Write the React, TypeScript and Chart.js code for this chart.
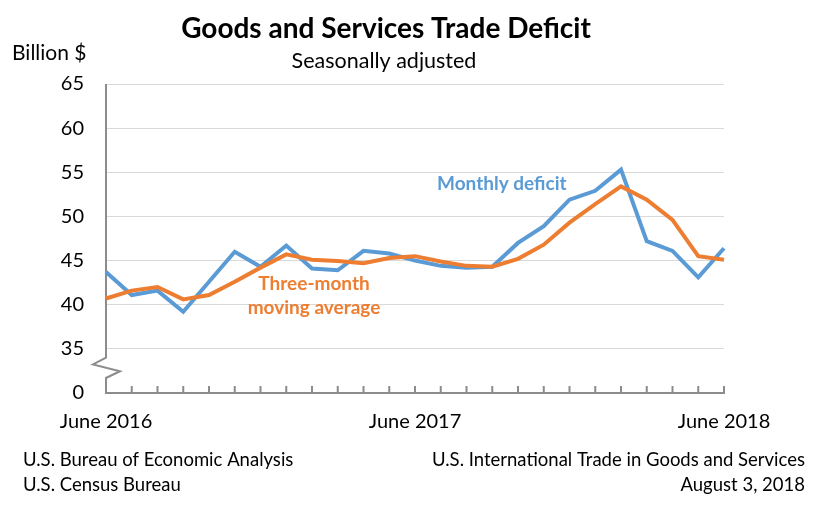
import React, { useEffect, useRef } from 'react';
import { Chart, registerables } from 'chart.js';

Chart.register(...registerables);

const months = [
  'June 2016', 'July 2016', 'August 2016', 'September 2016', 'October 2016', 'November 2016',
  'December 2016', 'January 2017', 'February 2017', 'March 2017', 'April 2017', 'May 2017',
  'June 2017', 'July 2017', 'August 2017', 'September 2017', 'October 2017', 'November 2017',
  'December 2017', 'January 2018', 'February 2018', 'March 2018', 'April 2018', 'May 2018',
  'June 2018',
];

const shownMonthLabels = ['June 2016', 'June 2017', 'June 2018'];

const monthlyDeficit = [
  43.7, 41.1, 41.6, 39.2, 42.6, 46.0, 44.3, 46.7, 44.1, 43.9, 46.1, 45.8,
  45.0, 44.4, 44.2, 44.3, 47.0, 48.9, 51.9, 52.9, 55.3, 47.2, 46.1, 43.1, 46.4,
];

const movingAverage = [
  40.7, 41.6, 42.0, 40.6, 41.1, 42.6, 44.2, 45.7, 45.1, 44.95, 44.7, 45.3,
  45.5, 44.9, 44.4, 44.3, 45.2, 46.8, 49.3, 51.4, 53.4, 51.9, 49.6, 45.5, 45.1,
];

const yMin = 30;
const yMax = 65;
const yStep = 5;
const brokenAxisLabel = '0';

const FONT = 'Lato, "Open Sans", "DejaVu Sans", sans-serif';
const BLUE = '#5b9bd5';
const ORANGE = '#ed7d31';
const AXIS = '#8c8c8c';
const GRID = '#d9d9d9';

const decorPlugin = {
  id: 'decor',
  beforeDatasetsDraw(chart: any) {
    const ctx = chart.ctx;
    const { left, top, bottom } = chart.chartArea;
    const yScale = chart.scales.y;
    const xScale = chart.scales.x;
    ctx.save();
    ctx.strokeStyle = AXIS;
    ctx.lineWidth = 2;
    const b1 = yScale.getPixelForValue(34);
    const b2 = yScale.getPixelForValue(31.7);
    const h = (b2 - b1) / 3;
    ctx.beginPath();
    ctx.moveTo(left, top);
    ctx.lineTo(left, b1);
    ctx.lineTo(left - 13, b1 + h);
    ctx.lineTo(left + 14, b1 + 2 * h);
    ctx.lineTo(left, b2);
    ctx.lineTo(left, bottom);
    ctx.stroke();
    ctx.beginPath();
    ctx.moveTo(left - 1, bottom);
    ctx.lineTo(chart.chartArea.right + 1, bottom);
    ctx.stroke();
    ctx.beginPath();
    for (let i = 1; i < months.length; i++) {
      const x = xScale.getPixelForValue(i);
      ctx.moveTo(x, bottom);
      ctx.lineTo(x, bottom - 7);
    }
    ctx.stroke();
    ctx.restore();
  },
  afterDraw(chart: any) {
    const ctx = chart.ctx;
    ctx.save();
    ctx.fillStyle = '#000';
    ctx.textBaseline = 'middle';
    ctx.textAlign = 'center';
    ctx.font = `bold 28px ${FONT}`;
    ctx.fillText('Goods and Services Trade Deficit', 386, 29);
    ctx.font = `21.5px ${FONT}`;
    ctx.fillText('Seasonally adjusted', 384, 61);
    ctx.textAlign = 'left';
    ctx.font = `21px ${FONT}`;
    ctx.fillText('Billion $', 12, 53);

    ctx.font = `18.5px ${FONT}`;
    ctx.fillText('U.S. Bureau of Economic Analysis', 23, 460);
    ctx.fillText('U.S. Census Bureau', 23, 485);
    ctx.textAlign = 'right';
    ctx.fillText('U.S. International Trade in Goods and Services', 805, 460);
    ctx.fillText('August 3, 2018', 805, 485);

    ctx.font = `bold 19px ${FONT}`;
    ctx.fillStyle = BLUE;
    ctx.textAlign = 'left';
    ctx.fillText('Monthly deficit', 437, 184);
    ctx.fillStyle = ORANGE;
    ctx.textAlign = 'center';
    ctx.fillText('Three-month', 314, 284);
    ctx.fillText('moving average', 314, 308);
    ctx.restore();
  },
};

export default function App() {
  const ref = useRef<HTMLCanvasElement>(null);
  useEffect(() => {
    if (!ref.current) return;
    const chart = new Chart(ref.current, {
      type: 'line',
      data: {
        labels: months,
        datasets: [
          {
            label: 'Monthly deficit',
            data: monthlyDeficit,
            borderColor: BLUE,
            borderWidth: 4,
            pointRadius: 0,
            tension: 0,
            order: 2,
          },
          {
            label: 'Three-month moving average',
            data: movingAverage,
            borderColor: ORANGE,
            borderWidth: 4,
            pointRadius: 0,
            tension: 0,
            order: 1,
          },
        ],
      },
      options: {
        animation: false,
        responsive: false,
        devicePixelRatio: 1,
        layout: { padding: { left: 0, top: 84, right: 105, bottom: 0 } },
        plugins: {
          legend: { display: false },
          tooltip: { enabled: false },
          title: { display: false },
        },
        scales: {
          x: {
            offset: false,
            grid: { display: false, drawTicks: false },
            border: { display: false },
            ticks: {
              autoSkip: false,
              maxRotation: 0,
              padding: 17,
              color: '#000',
              font: { family: FONT, size: 20 },
              callback: (_v: any, i: number) =>
                shownMonthLabels.includes(months[i]) ? months[i] : '',
            },
            afterFit: (s: any) => { s.height = 113; },
          },
          y: {
            min: yMin,
            max: yMax,
            grid: {
              drawTicks: false,
              color: (c: any) => (c.tick && c.tick.value === yMin ? 'rgba(0,0,0,0)' : GRID),
              lineWidth: 1,
            },
            border: { display: false },
            ticks: {
              stepSize: yStep,
              padding: 22,
              color: '#000',
              font: { family: FONT, size: 20 },
              callback: (v: any) => (v === yMin ? brokenAxisLabel : String(v)),
            },
            afterFit: (s: any) => { s.width = 106; },
          },
        },
      },
      plugins: [decorPlugin],
    });
    return () => chart.destroy();
  }, []);
  return (
    <div style={{ position: 'absolute', left: 0, top: 0, width: 829, height: 506, background: '#fff' }}>
      <canvas ref={ref} width={829} height={506} />
    </div>
  );
}
